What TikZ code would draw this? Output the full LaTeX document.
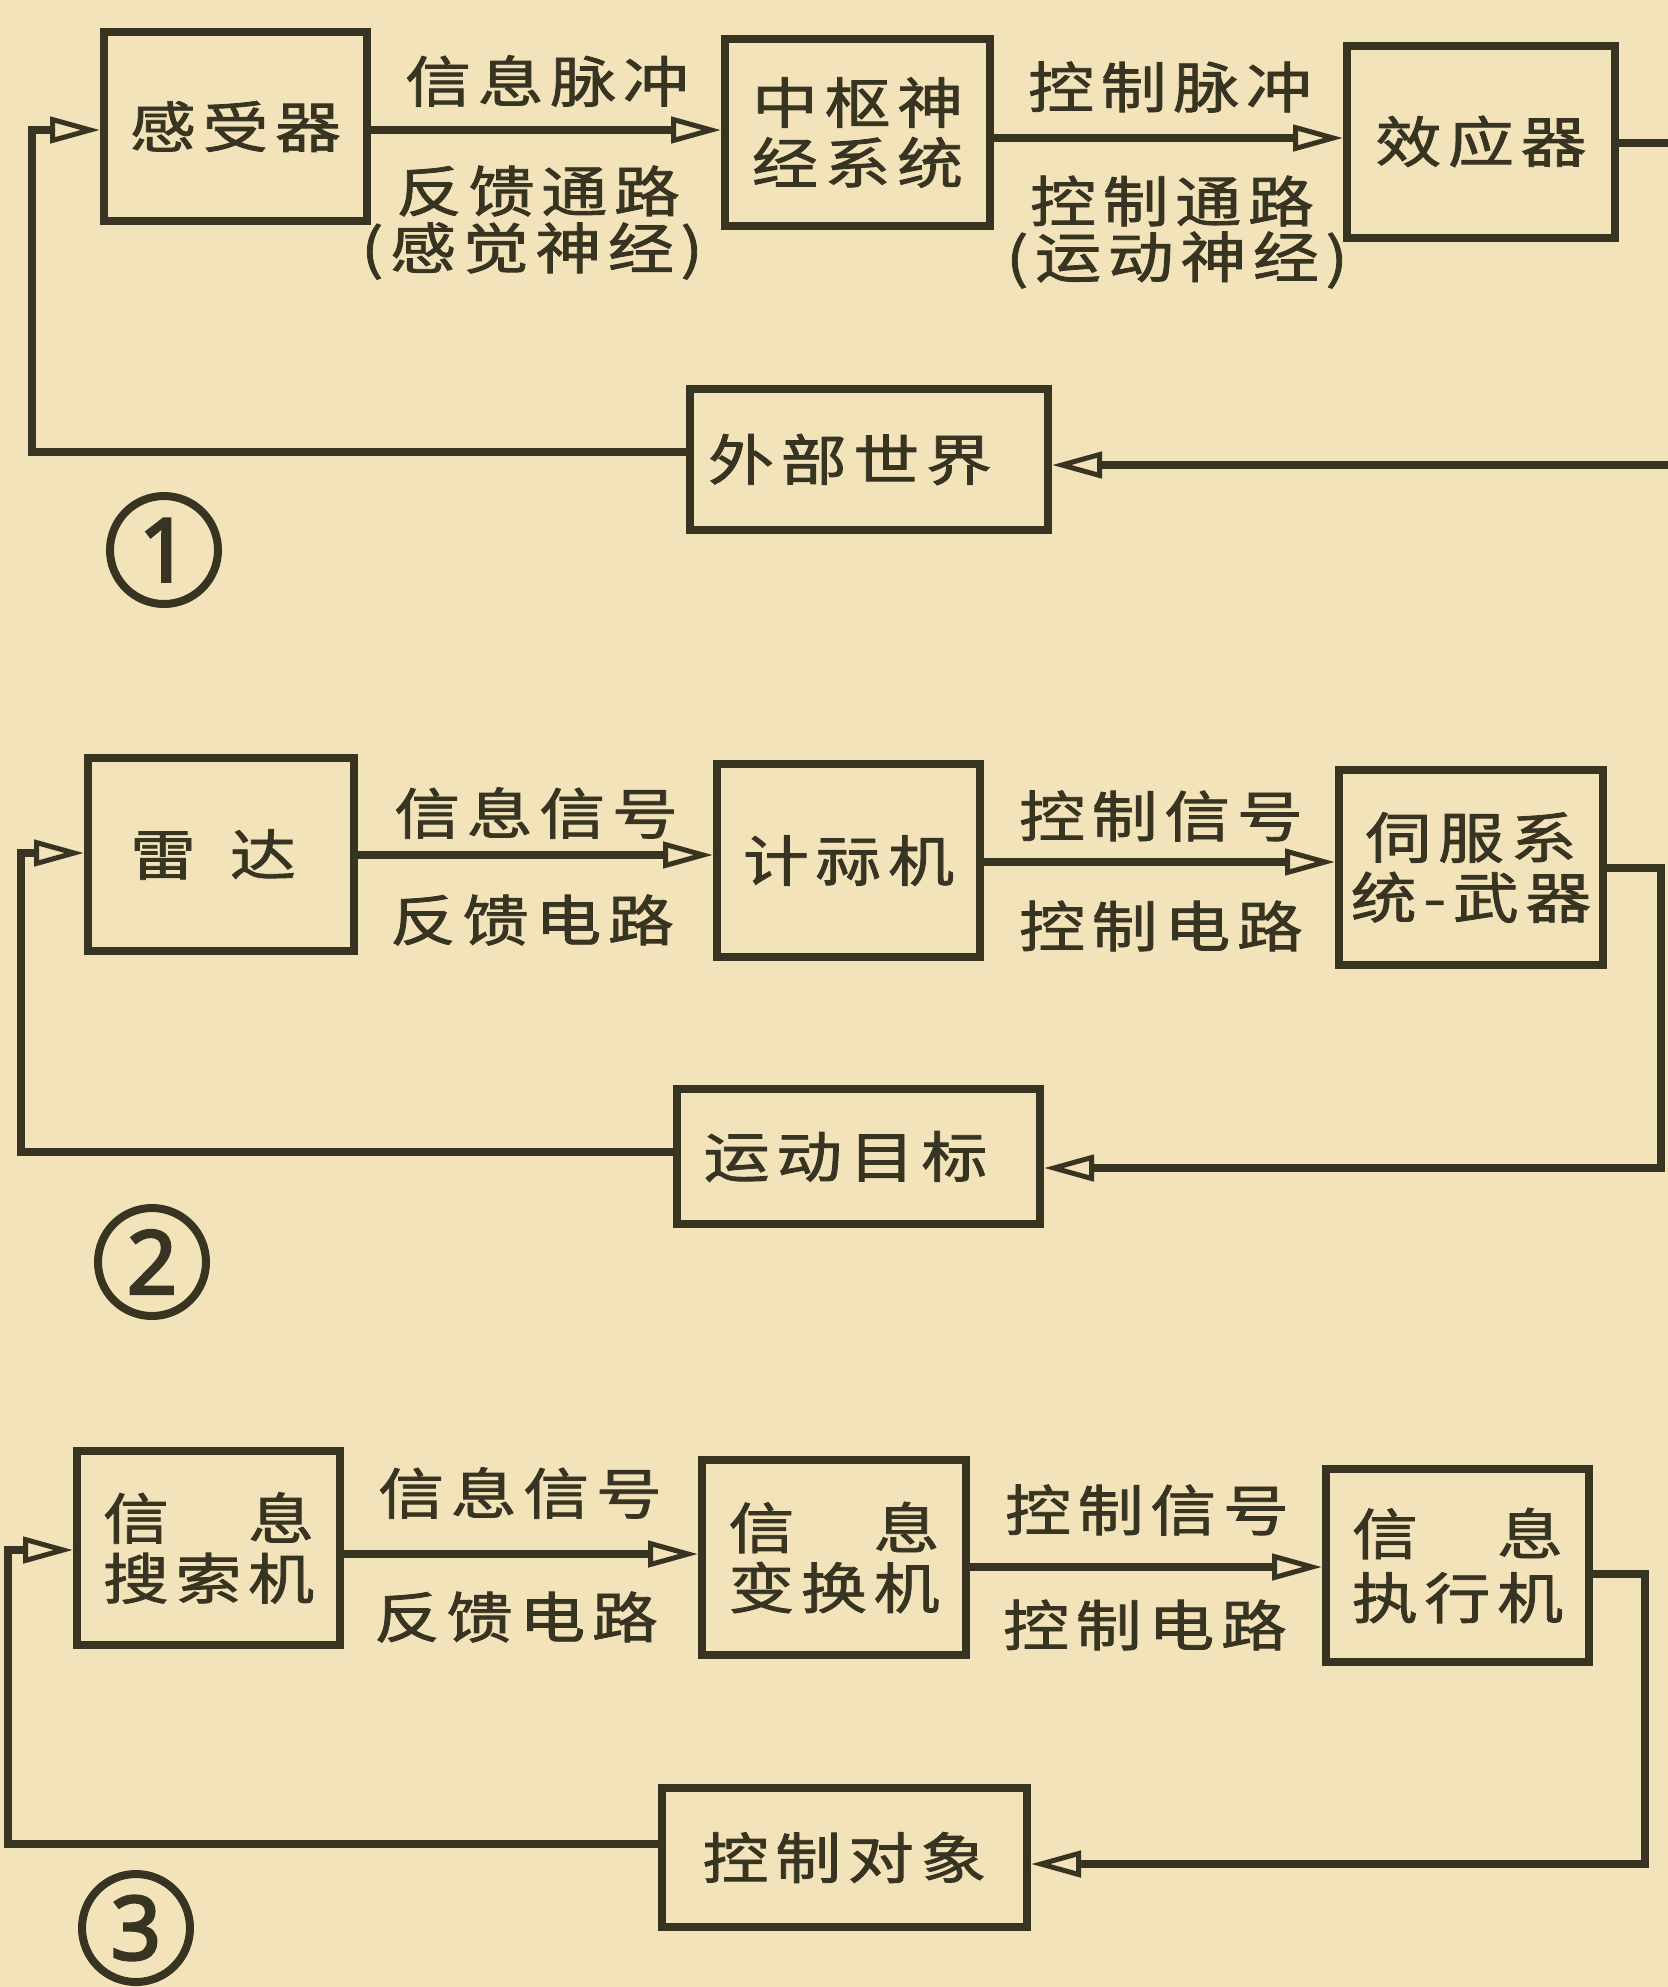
\documentclass[tikz,border=0pt]{standalone}
\usepackage{fontspec}
\setmainfont{Noto Sans}
\newfontfamily\cjkfont[FakeStretch=1.2, LetterSpace=12, FakeBold=1.5]{Noto Sans CJK SC}
\newfontfamily\numfont[FakeBold=3]{Noto Sans}
\usetikzlibrary{arrows.meta}
\definecolor{paper}{RGB}{243,227,186}
\definecolor{ink}{RGB}{55,52,33}
\tikzset{
  box/.style={draw=ink, line width=8pt, rectangle, inner sep=0pt, text=ink,
    align=center, font={\cjkfont\fontsize{55}{60}\selectfont}},
  lbl/.style={text=ink, inner sep=0pt, font={\cjkfont\fontsize{55}{60}\selectfont}},
  conn/.style={draw=ink, line width=7.5pt, line join=miter},
  arr/.style={conn, -{Triangle[open, length=50pt, width=26pt, line width=5pt]}},
  numcirc/.style={circle, draw=ink, line width=8pt, minimum size=108pt, inner sep=0pt,
    text=ink, font={\numfont\fontsize{88}{88}\selectfont}}
}
\begin{document}
\begin{tikzpicture}[x=1pt, y=-1pt]
\useasboundingbox (0,0) rectangle (1668,1987);
\fill[paper] (0,0) rectangle (1668,1987);
\clip (0,0) rectangle (1668,1987);

% ---------- diagram 1 ----------
\node[box, minimum width=263pt, minimum height=189pt] (a1) at (235.5,126.5) {感受器};
\node[box, minimum width=265pt, minimum height=187pt] (b1) at (857.5,132.5) {中枢神\\经系统};
\node[box, minimum width=268pt, minimum height=192pt] (c1) at (1481,142) {\raisebox{6pt}{效应器}};
\node[box, minimum width=358pt, minimum height=141pt] (d1) at (869,459.5) {外部世界\hspace*{38pt}};

\node[lbl] (t1a) at (547,81) {信息脉冲};
\node[lbl] (t1b) at (538,191) {反馈通路};
\node[lbl] (t1c) at (532,251) {(感觉神经)};
\node[lbl] (t1d) at (1170,87) {控制脉冲};
\node[lbl] (t1e) at (1172,201) {控制通路};
\node[lbl] (t1f) at (1177,260) {(运动神经)};

\coordinate (k1a) at (1700,143);
\coordinate (k1b) at (1700,465);
\coordinate (k1c) at (32,452);
\coordinate (k1d) at (32,130);
\draw[arr] (a1.east |- 0,130) -- (b1.west |- 0,130);
\draw[arr] (b1.east |- 0,138) -- (c1.west |- 0,138);
\draw[arr] (c1.east |- k1a) -- (k1a) -- (k1b) -- (d1.east |- k1b);
\draw[arr] (d1.west |- k1c) -- (k1c) -- (k1d) -- (a1.west |- k1d);

\node[numcirc] (n1) at (164,550) {1};

% ---------- diagram 2 ----------
\node[box, minimum width=266pt, minimum height=193pt] (a2) at (221,854.5) {雷\hspace{34pt}达\hspace*{16pt}};
\node[box, minimum width=263pt, minimum height=193pt] (b2) at (848.5,860.5) {计祘机};
\node[box, minimum width=264pt, minimum height=195pt] (c2) at (1471,867.5) {伺服系\\统-武器};
\node[box, minimum width=363pt, minimum height=135pt] (d2) at (858.5,1156.5) {运动目标\hspace*{26pt}};

\node[lbl] (t2a) at (536,813) {信息信号};
\node[lbl] (t2b) at (532,920) {反馈电路};
\node[lbl] (t2c) at (1161,816) {控制信号};
\node[lbl] (t2d) at (1161,926) {控制电路};

\coordinate (k2a) at (1661,868);
\coordinate (k2b) at (1661,1168);
\coordinate (k2c) at (21,1152);
\coordinate (k2d) at (21,853);
\draw[arr] (a2.east |- 0,855) -- (b2.west |- 0,855);
\draw[arr] (b2.east |- 0,862) -- (c2.west |- 0,862);
\draw[arr] (c2.east |- k2a) -- (k2a) -- (k2b) -- (d2.east |- k2b);
\draw[arr] (d2.west |- k2c) -- (k2c) -- (k2d) -- (a2.west |- k2d);

\node[numcirc] (n2) at (152,1262) {2};

% ---------- diagram 3 ----------
\node[box, minimum width=263pt, minimum height=194pt] (a3) at (208.5,1548) {信　息\\搜索机};
\node[box, minimum width=264pt, minimum height=195pt] (b3) at (834,1557.5) {信　息\\变换机};
\node[box, minimum width=263pt, minimum height=193pt] (c3) at (1457.5,1565.5) {信　息\\[4pt]执行机};
\node[box, minimum width=365pt, minimum height=139pt] (d3) at (844.5,1857.5) {控制对象};

\node[lbl] (t3a) at (520,1493) {信息信号};
\node[lbl] (t3b) at (516,1617) {反馈电路};
\node[lbl] (t3c) at (1147,1510) {控制信号};
\node[lbl] (t3d) at (1145,1625) {控制电路};

\coordinate (k3a) at (1645,1574);
\coordinate (k3b) at (1645,1864);
\coordinate (k3c) at (8,1844);
\coordinate (k3d) at (8,1550);
\draw[arr] (a3.east |- 0,1554) -- (b3.west |- 0,1554);
\draw[arr] (b3.east |- 0,1567) -- (c3.west |- 0,1567);
\draw[arr] (c3.east |- k3a) -- (k3a) -- (k3b) -- (d3.east |- k3b);
\draw[arr] (d3.west |- k3c) -- (k3c) -- (k3d) -- (a3.west |- k3d);

\node[numcirc] (n3) at (136,1928) {3};
\end{tikzpicture}
\end{document}
